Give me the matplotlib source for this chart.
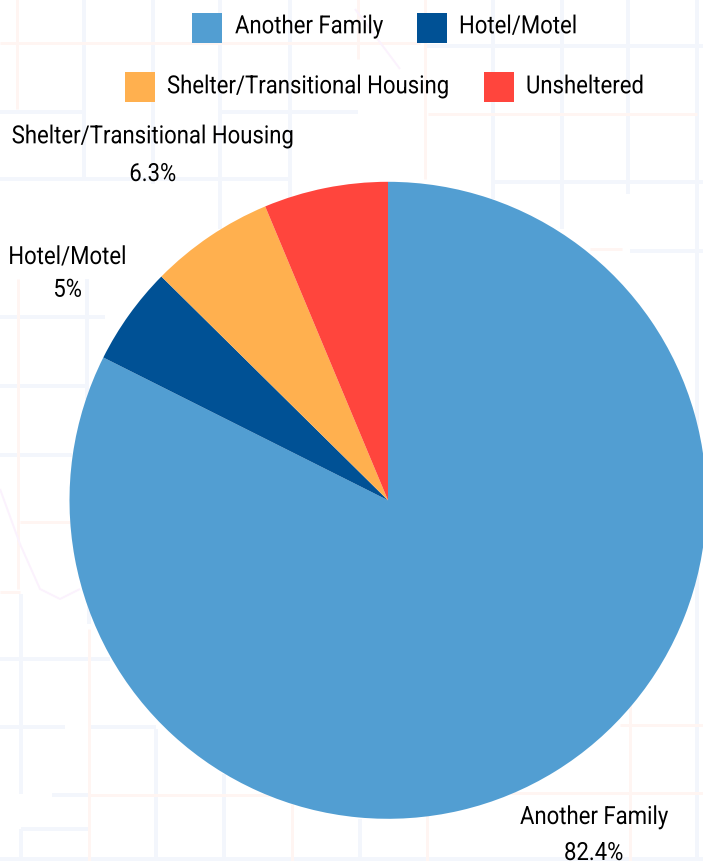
import matplotlib
matplotlib.use("Agg")
import matplotlib.pyplot as plt
from matplotlib.patches import Rectangle
from matplotlib.patheffects import AbstractPathEffect
from matplotlib.transforms import Affine2D

categories = ["Another Family", "Hotel/Motel", "Shelter/Transitional Housing", "Unsheltered"]
values = [82.4, 5.0, 6.3, 6.3]
value_labels = ["82.4%", "5%", "6.3%", ""]
colors = ["#529ed2", "#005195", "#ffb04f", "#ff453d"]

W, H = 703, 862
plt.rcParams['font.family'] = ['Roboto', 'DejaVu Sans']
fig = plt.figure(figsize=(W / 100, H / 100), dpi=100)


class Condense(AbstractPathEffect):
    """Narrow the glyphs horizontally, as the reference uses a condensed face."""
    def __init__(self, sx):
        super().__init__()
        self.sx = sx

    def draw_path(self, renderer, gc, tpath, affine, rgbFace=None):
        renderer.draw_path(gc, tpath, Affine2D().scale(self.sx, 1) + affine, rgbFace)


bg = fig.add_axes([0, 0, 1, 1])
bg.set_xlim(0, W); bg.set_ylim(H, 0); bg.axis('off')

# faint street-map backdrop
BLUE, PINK, PURPLE = '#f3f6fc', '#fff5f2', '#fbf2fd'
backdrop = [
    (BLUE, 4, [(84, 0), (84, 180)]), (BLUE, 4, [(153, 0), (153, 185)]), (BLUE, 4, [(220, 0), (220, 230)]),
    (BLUE, 4, [(290, 0), (290, 200)]), (BLUE, 4, [(493, 0), (493, 200)]), (BLUE, 4, [(562, 0), (562, 230)]),
    (BLUE, 4, [(628, 0), (628, 195)]), (BLUE, 4, [(697, 0), (697, 862)]), (BLUE, 4, [(87, 280), (87, 400)]),
    (BLUE, 4, [(21, 595), (21, 795)]), (BLUE, 4, [(21, 830), (21, 862)]), (BLUE, 4, [(89, 600), (89, 625)]),
    (BLUE, 4, [(156, 730), (156, 862)]), (BLUE, 4, [(224, 775), (224, 862)]), (BLUE, 4, [(360, 820), (360, 862)]),
    (BLUE, 4, [(0, 113), (85, 113)]), (BLUE, 4, [(220, 113), (358, 113)]), (BLUE, 4, [(0, 180), (290, 180)]),
    (BLUE, 4, [(425, 47), (703, 47)]), (BLUE, 4, [(493, 183), (703, 183)]), (BLUE, 4, [(630, 252), (703, 252)]),
    (BLUE, 4, [(0, 318), (105, 318)]), (BLUE, 4, [(0, 387), (85, 387)]), (BLUE, 4, [(0, 456), (72, 456)]),
    (BLUE, 4, [(0, 660), (110, 660)]), (BLUE, 4, [(0, 728), (65, 728)]), (BLUE, 4, [(90, 728), (156, 728)]),
    (BLUE, 4, [(52, 796), (88, 796)]), (BLUE, 4, [(21, 830), (88, 830)]), (BLUE, 4, [(0, 860), (703, 860)]),
    (PINK, 3, [(0, 44), (420, 44)]), (PINK, 3, [(428, 115), (697, 115)]), (PINK, 3, [(590, 250), (622, 250)]),
    (PINK, 3, [(17, 0), (17, 110)]), (PINK, 3, [(18, 280), (18, 590)]), (PINK, 3, [(358, 0), (358, 60)]),
    (PINK, 3, [(425, 0), (425, 180)]), (PINK, 3, [(89, 630), (89, 862)]),
    (PINK, 3, [(20, 523), (70, 523)]), (PINK, 3, [(0, 593), (20, 593)]), (PINK, 3, [(90, 796), (305, 796)]),
    (PINK, 3, [(292, 805), (292, 862)]), (PINK, 3, [(427, 810), (427, 862)]), (PINK, 3, [(510, 794), (703, 794)]),
    (PINK, 3, [(630, 690), (630, 862)]), (PINK, 3, [(620, 726), (703, 726)]),
    (PURPLE, 2, [(0, 490), (20, 545), (40, 590), (60, 600), (80, 590)]),
    (PURPLE, 2, [(355, 10), (400, 70)]),
]
for col, lw, pts in backdrop:
    bg.plot([p[0] for p in pts], [p[1] for p in pts], color=col, lw=lw * 0.72, solid_capstyle='butt', zorder=1)

cx, cy, r = 388, 501.3, 318.5
ax = fig.add_axes([(cx - r) / W, 1 - (cy + r) / H, 2 * r / W, 2 * r / H])
ax.patch.set_alpha(0)
ax.pie(values, colors=colors, startangle=90, counterclock=False, radius=1,
       wedgeprops=dict(linewidth=0))
ax.set_xlim(-1, 1); ax.set_ylim(-1, 1); ax.set_aspect('equal')

fg = fig.add_axes([0, 0, 1, 1])
fg.set_xlim(0, W); fg.set_ylim(H, 0); fg.axis('off'); fg.patch.set_alpha(0)

fs = 18
condense = Condense(0.885)
def px(x, y, s):
    t = fg.text(x, y + 1, s, fontsize=fs, color='#000000', ha='left', va='baseline', zorder=5, clip_on=False)
    t.set_path_effects([condense])

legend = [(0, 192, 28.5, 235, 33.3), (1, 417, 28.5, 459, 33.3), (2, 125, 88, 167, 93.3), (3, 484, 88, 526, 93.3)]
for i, x, y, tx, ty in legend:
    fg.add_patch(Rectangle((x, y - 15), 30, 30, color=colors[i], lw=0))
    px(tx, ty, categories[i])

labels = [(0, 520, 824, 564, 860), (1, 8.3, 264, 53.3, 296.7), (2, 11.7, 143.3, 129.3, 181)]
for i, x1, y1, x2, y2 in labels:
    px(x1, y1, categories[i])
    px(x2, y2, value_labels[i])

fig.savefig("out.png", dpi=100)
